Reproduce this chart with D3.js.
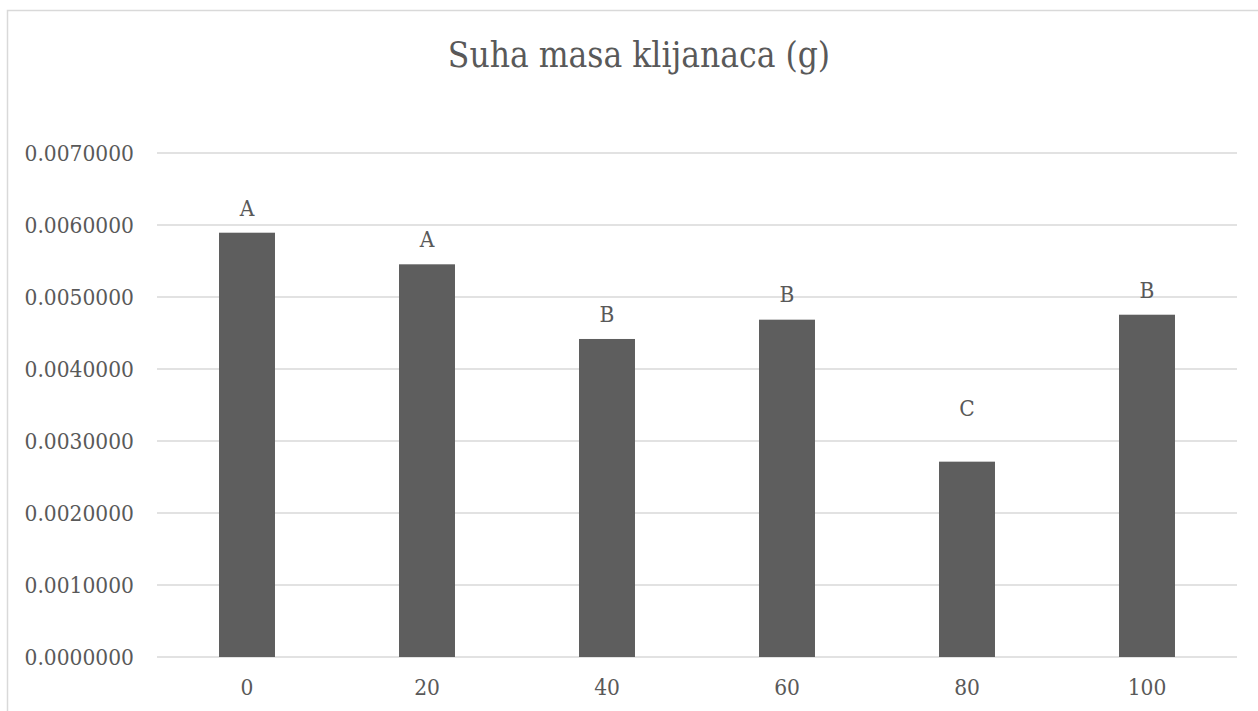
<!DOCTYPE html>
<html>
<head>
<meta charset="utf-8">
<script src="https://cdn.jsdelivr.net/npm/d3@7"></script>
<style>
  html, body { margin: 0; padding: 0; background: #fff; }
  svg { display: block; }
  text { font-family: "DejaVu Serif Condensed", "DejaVu Serif", "Liberation Serif", serif; fill: #595959; }
</style>
</head>
<body>
<svg id="chart" width="1258" height="711"></svg>
<script>
const title = "Suha masa klijanaca (g)";
const categories = ["0", "20", "40", "60", "80", "100"];
const values = [0.005893, 0.005454, 0.004417, 0.004685, 0.002713, 0.004754];
const letters = ["A", "A", "B", "B", "C", "B"];
const letterAnchors = [0.006125, 0.005699, 0.004653, 0.004931, 0.003347, 0.004990];
const yTicks = [0, 0.001, 0.002, 0.003, 0.004, 0.005, 0.006, 0.007];

const svg = d3.select("#chart");

// outer chart frame
svg.append("rect")
  .attr("x", 7.5).attr("y", 10.5)
  .attr("width", 1400).attr("height", 900)
  .attr("fill", "none").attr("stroke", "#d9d9d9").attr("stroke-width", 1.5);

const plot = { left: 157, right: 1237, top: 153, bottom: 657 };

const y = d3.scaleLinear().domain([0, 0.007]).range([plot.bottom, plot.top]);
const x = d3.scaleBand().domain(categories).range([plot.left, plot.right])
  .paddingInner(0.689).paddingOuter(0.3445);

// gridlines
svg.append("g").selectAll("line").data(yTicks).join("line")
  .attr("x1", plot.left).attr("x2", plot.right)
  .attr("y1", d => y(d)).attr("y2", d => y(d))
  .attr("stroke", "#d9d9d9").attr("stroke-width", 1.5);

// y axis labels
const yAxis = d3.axisLeft(y).tickValues(yTicks).tickFormat(d3.format(".7f")).tickSize(0).tickPadding(23);
const gy = svg.append("g").attr("transform", `translate(${plot.left},0)`).call(yAxis);
gy.select(".domain").remove();
gy.selectAll("text").style("font-size", "22.5px").attr("fill", "#595959")
  .style("font-family", '"DejaVu Serif Condensed", "DejaVu Serif", serif');

// x axis labels
const xAxis = d3.axisBottom(x).tickSize(0).tickPadding(22);
const gx = svg.append("g").attr("transform", `translate(0,${plot.bottom})`).call(xAxis);
gx.select(".domain").remove();
gx.selectAll("text").style("font-size", "22.5px").attr("fill", "#595959")
  .style("font-family", '"DejaVu Serif Condensed", "DejaVu Serif", serif');

// bars
svg.append("g").selectAll("rect").data(values).join("rect")
  .attr("x", (d, i) => x(categories[i]))
  .attr("width", x.bandwidth())
  .attr("y", d => y(d))
  .attr("height", d => y(0) - y(d))
  .attr("fill", "#5e5e5e");

// letter labels
svg.append("g").selectAll("text").data(letters).join("text")
  .attr("x", (d, i) => x(categories[i]) + x.bandwidth() / 2)
  .attr("y", (d, i) => y(letterAnchors[i]))
  .attr("text-anchor", "middle")
  .style("font-size", "22.5px")
  .attr("fill", "#404040")
  .text(d => d);

// title
svg.append("text")
  .attr("x", 639).attr("y", 67)
  .attr("text-anchor", "middle")
  .style("font-size", "35px")
  .text(title);
</script>
</body>
</html>
